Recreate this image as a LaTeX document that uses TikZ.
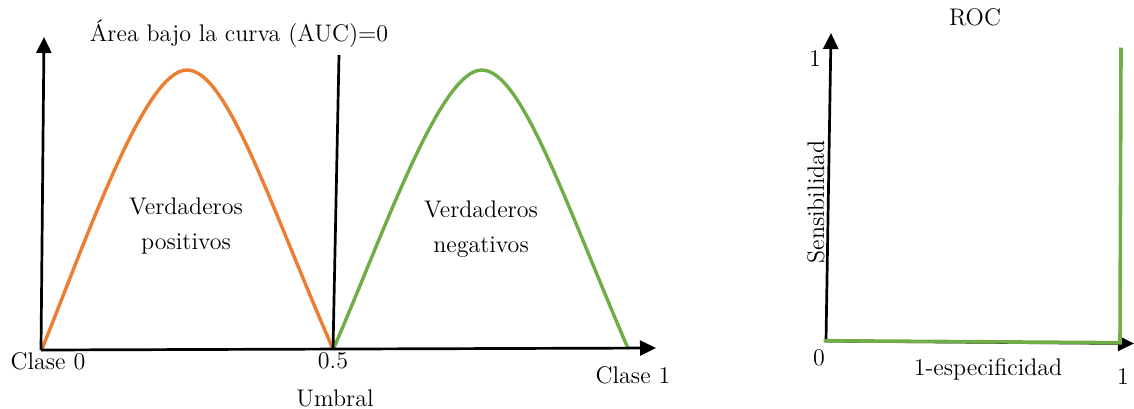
\documentclass[tikz,border=0pt]{standalone}
\usepackage{fontspec}
\usetikzlibrary{arrows.meta}
\definecolor{corange}{RGB}{237,125,49}
\definecolor{cgreen}{RGB}{112,173,71}
\tikzset{
  axis/.style={line width=1.35pt,-{Triangle[length=8pt,width=7.5pt]}},
  plainaxis/.style={line width=1.35pt},
  curveo/.style={line width=1.7pt,color=corange},
  curveg/.style={line width=1.7pt,color=cgreen},
  lbl/.style={font=\fontsize{12}{17.5}\selectfont,inner sep=0pt,align=center},
}
\begin{document}
\begin{tikzpicture}[x=0.5pt,y=-0.5pt]
\useasboundingbox (0,0) rectangle (1134,408);
% left plot coordinates
\coordinate (O) at (41,350);
\coordinate (Ytop) at (44,37);
\coordinate (Xend) at (656,348);
\coordinate (M) at (333,350);
\coordinate (Mtop) at (339,55);
\coordinate (Ps) at (42,349);
\coordinate (Pp) at (187,70);
\coordinate (Pe) at (333,349);
\coordinate (Ns) at (333.3,349);
\coordinate (Np) at (481.7,70);
\coordinate (Ne) at (628.3,349);
% curves
\draw[curveo] (Ps) .. controls (88,235) and (145,70) .. (Pp)
               .. controls (227,70) and (270,205) .. (Pe);
\draw[curveg] (Ns) .. controls (382,238) and (439.7,70) .. (Np)
               .. controls (521.7,70) and (566,205) .. (Ne);
% axes
\draw[axis] (O) -- (Ytop);
\draw[axis] (O) -- (Xend);
\draw[plainaxis] (M) -- (Mtop);
% labels
\node[lbl] (title) at (239,34) {Área bajo la curva (AUC)=0};
\node[lbl] (vp) at (186,226) {Verdaderos\\positivos};
\node[lbl] (vn) at (481,229) {Verdaderos\\negativos};
\node[lbl] (c0) at (48,361) {Clase 0};
\node[lbl] (half) at (333,361) {0.5};
\node[lbl] (c1) at (633,375) {Clase 1};
\node[lbl] (umb) at (335,398) {Umbral};
% right plot
\coordinate (R0) at (826,341);
\coordinate (RYtop) at (831,33);
\coordinate (RXend) at (1134,343.5);
\coordinate (G0) at (823.5,340.7);
\coordinate (G1) at (1120,342.7);
\coordinate (G2) at (1121,47.5);
\draw[axis] (R0) -- (RYtop);
\draw[axis] (R0) -- (RXend);
\draw[curveg,line width=1.8pt] (G0) -- (G1) -- (G2);
\node[lbl] (roc) at (975,17) {ROC};
\node[lbl] (r1) at (815,59) {1};
\node[lbl] (r0) at (819,358) {0};
\node[lbl] (rx1) at (1123,377) {1};
\node[lbl] (esp) at (988,369) {1-especificidad};
\node[lbl,rotate=90] (sen) at (816,202) {Sensibilidad};
\end{tikzpicture}
\end{document}
